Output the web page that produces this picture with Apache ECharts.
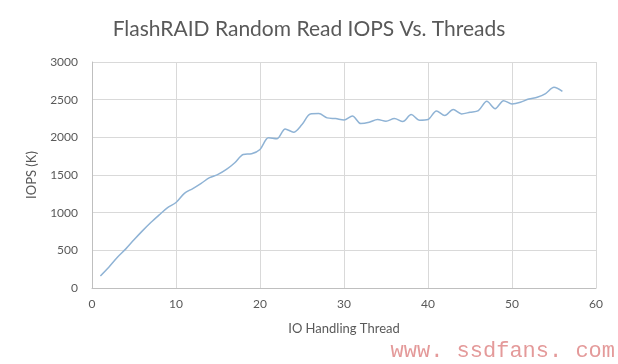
<!DOCTYPE html>
<html><head><meta charset="utf-8">
<script src="https://cdn.jsdelivr.net/npm/echarts@6/dist/echarts.min.js"></script>
<style>html,body{margin:0;padding:0;background:#fff}#c{width:618px;height:364px}</style>
</head><body><div id="c"></div>
<script>
var threads = [1,2,3,4,5,6,7,8,9,10,11,12,13,14,15,16,17,18,19,20,21,22,23,24,25,26,27,28,29,30,31,32,33,34,35,36,37,38,39,40,41,42,43,44,45,46,47,48,49,50,51,52,53,54,55,56];
var iops = [160,275,405,516,640,758,869,970,1067,1135,1257,1320,1390,1464,1508,1574,1663,1773,1782,1839,1993,1980,2112,2068,2170,2311,2315,2258,2249,2231,2284,2183,2200,2236,2214,2249,2209,2302,2227,2236,2350,2289,2368,2311,2333,2355,2478,2381,2487,2443,2465,2509,2531,2580,2664,2611];
var titleText = 'FlashRAID Random Read IOPS Vs. Threads';
var xName = 'IO Handling Thread';
var yName = 'IOPS (K)';

var chart = echarts.init(document.getElementById('c'), null, {renderer:'canvas'});
var data = threads.map(function(t,i){return [t, iops[i]];});
chart.setOption({
  animation:false,
  backgroundColor:'#fff',
  title:{text:titleText,left:'center',top:14,textStyle:{fontFamily:'Lato',fontSize:21,fontWeight:'normal',color:'#595959'}},
  grid:{left:92,right:22,top:62,bottom:76},
  xAxis:{type:'value',min:0,max:60,interval:10,name:xName,nameLocation:'middle',nameGap:34,
    nameTextStyle:{fontFamily:'Lato',fontSize:13,color:'#595959'},
    axisLine:{show:true,lineStyle:{color:'#bfbfbf'}},axisTick:{show:false},
    axisLabel:{fontFamily:'Lato',fontSize:12,color:'#595959',margin:10},
    splitLine:{show:true,lineStyle:{color:'#d9d9d9'}}},
  yAxis:{type:'value',min:0,max:3000,interval:500,name:yName,nameLocation:'middle',nameGap:54,
    nameTextStyle:{fontFamily:'Lato',fontSize:13,color:'#595959'},
    axisLine:{show:true,lineStyle:{color:'#bfbfbf'}},axisTick:{show:false},
    axisLabel:{fontFamily:'Lato',fontSize:12,color:'#595959',margin:14,formatter:function(v){return String(v);}},
    splitLine:{show:true,lineStyle:{color:'#d9d9d9'}}},
  graphic:[{type:'text',right:3,bottom:2,style:{text:'www. ssdfans. com',font:'22px "Liberation Mono"',fill:'#e49a9a'}}],
  series:[{type:'line',data:data,smooth:0.3,symbol:'none',lineStyle:{color:'#8fb3d5',width:1.5}}]
});
</script></body></html>
